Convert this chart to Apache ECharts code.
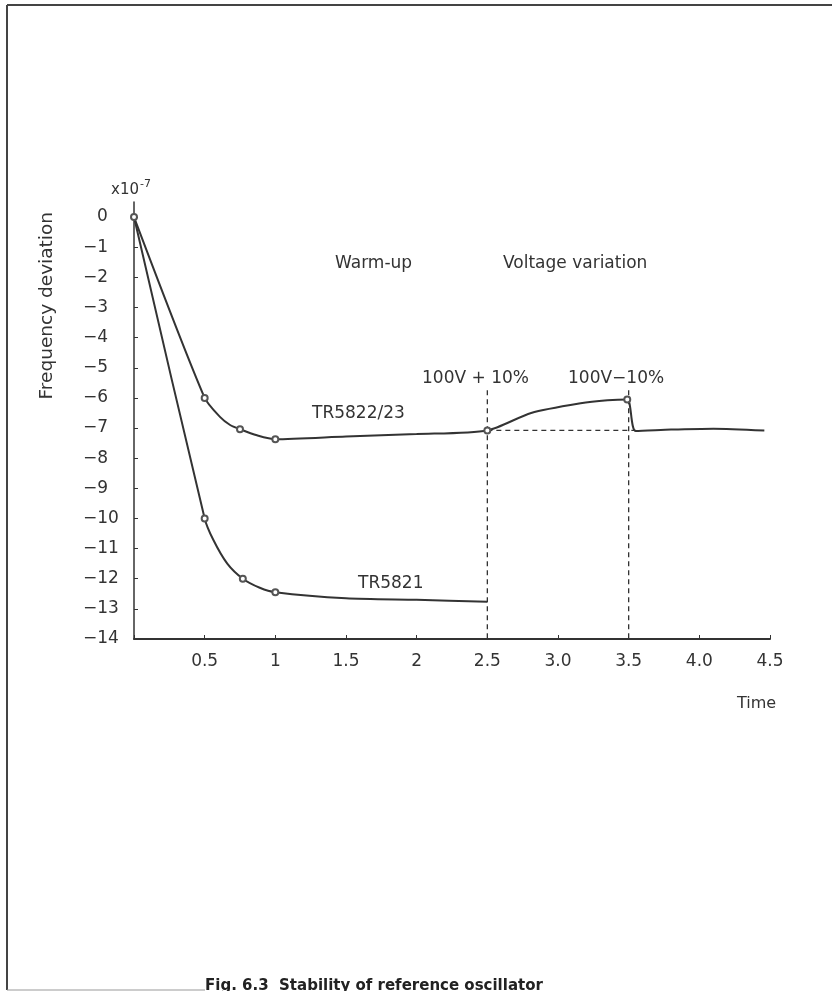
<!DOCTYPE html>
<html>
<head>
<meta charset="utf-8">
<script src="https://cdn.jsdelivr.net/npm/echarts@6/dist/echarts.min.js"></script>
<style>
  html, body { margin: 0; padding: 0; background: #fff; }
  #chart { width: 832px; height: 991px; }
</style>
</head>
<body>
<div id="chart"></div>
<script>
// time axis tick labels (0 has none)
const xTickLabels = ['', '0.5', '1', '1.5', '2', '2.5', '3.0', '3.5', '4.0', '4.5']

// TR5822/23 curve: time, deviation (x1e-7)
const tr5822Time = [0, 0.5, 0.61, 0.68, 0.75, 0.87, 1.0, 1.5, 2.0, 2.5, 2.81, 3.16, 3.35, 3.49, 3.55, 3.8, 4.1, 4.46]
const tr5822Dev  = [0, -6.0, -6.64, -6.9, -7.04, -7.24, -7.37, -7.28, -7.2, -7.08, -6.5, -6.18, -6.08, -6.05, -7.1, -7.05, -7.02, -7.08]
const tr5822Marked = [0, 0.5, 0.75, 1.0, 2.5, 3.49]

// TR5821 curve
const tr5821Time = [0, 0.5, 0.56, 0.66, 0.77, 0.89, 1.0, 1.5, 2.0, 2.5]
const tr5821Dev  = [0, -10.0, -10.7, -11.5, -12.0, -12.3, -12.45, -12.65, -12.7, -12.76]
const tr5821Marked = [0.5, 0.77, 1.0]

// reference (dashed) lines
const dashVert1 = [[2.5, -5.75], [2.5, -14]]
const dashVert2 = [[3.5, -5.75], [3.5, -14]]
const dashHoriz = [[2.5, -7.08], [3.55, -7.08]]

const toData = (ts, vs, marked) => ts.map((t, i) => ({
  value: [t, vs[i]],
  symbol: marked.includes(t) ? 'emptyCircle' : 'none'
}))

const chart = echarts.init(document.getElementById('chart'))
const font = '"DejaVu Sans", sans-serif'
const ink = '#333'

const dashed = (data) => ({
  type: 'line',
  data: data,
  symbol: 'none',
  silent: true,
  lineStyle: { color: ink, width: 1.3, type: [5, 4] },
  z: 1
})

const curve = (name, data) => ({
  name: name,
  type: 'line',
  data: data,
  smooth: 0.25,
  symbolSize: 6,
  lineStyle: { color: ink, width: 2 },
  itemStyle: { color: '#555', borderWidth: 1 },
  z: 3
})

const label = (text, left, top, size) => ({
  type: 'text', left: left, top: top,
  style: { text: text, fill: ink, font: (size || 17) + 'px ' + font }
})

chart.setOption({
  animation: false,
  backgroundColor: '#fff',
  grid: { left: 134, right: 62, top: 202, bottom: 352 },
  xAxis: {
    type: 'value',
    min: 0,
    max: 4.5,
    interval: 0.5,
    splitLine: { show: false },
    axisLine: { onZero: false, lineStyle: { color: ink, width: 2 } },
    axisTick: { inside: true, length: 4, lineStyle: { color: ink } },
    axisLabel: {
      color: ink,
      fontSize: 17,
      fontFamily: font,
      margin: 14,
      formatter: (v) => xTickLabels[Math.round(v / 0.5)] || ''
    }
  },
  yAxis: {
    type: 'value',
    min: -14,
    max: 0.5,
    interval: 1,
    splitLine: { show: false },
    axisLine: { show: true, onZero: false, lineStyle: { color: ink, width: 1.5 } },
    axisTick: { inside: true, length: 4, lineStyle: { color: ink } },
    axisLabel: {
      color: ink,
      fontSize: 17,
      fontFamily: font,
      margin: 51,
      align: 'left',
      showMaxLabel: false,
      formatter: (v) => v === 0 ? '{z|0}' : '\u2212' + Math.abs(v),
      rich: { z: { color: ink, fontSize: 17, fontFamily: font, padding: [0, 0, 0, 14] } }
    }
  },
  series: [
    curve('TR5822/23', toData(tr5822Time, tr5822Dev, tr5822Marked)),
    curve('TR5821', toData(tr5821Time, tr5821Dev, tr5821Marked)),
    dashed(dashVert1),
    dashed(dashVert2),
    dashed(dashHoriz)
  ],
  graphic: [
    // page frame
    { type: 'line', shape: { x1: 7, y1: 5, x2: 832, y2: 5 }, style: { stroke: '#444', lineWidth: 2 } },
    { type: 'line', shape: { x1: 7, y1: 5, x2: 7, y2: 990 }, style: { stroke: '#444', lineWidth: 2 } },
    { type: 'line', shape: { x1: 7, y1: 990, x2: 205, y2: 990 }, style: { stroke: '#999', lineWidth: 1 } },
    {
      type: 'text', left: 38, top: 212,
      rotation: Math.PI / 2,
      style: { text: 'Frequency deviation', fill: ink, font: '18.5px ' + font }
    },
    {
      type: 'text', left: 111, top: 179,
      style: {
        text: '{a|x10}{b|-7}',
        rich: {
          a: { fill: ink, font: '15px ' + font, verticalAlign: 'bottom' },
          b: { fill: ink, font: '11px ' + font, verticalAlign: 'top', padding: [0, 0, 8, 1] }
        }
      }
    },
    label('Warm-up', 335, 255),
    label('Voltage variation', 503, 255),
    label('100V + 10%', 422, 370),
    label('100V\u221210%', 568, 370),
    label('TR5822/23', 312, 405),
    label('TR5821', 358, 575),
    label('Time', 737, 696, 16),
    {
      type: 'text', left: 205, top: 979,
      style: { text: 'Fig. 6.3  Stability of reference oscillator', fill: '#222', font: 'bold 15px ' + font }
    }
  ]
})
</script>
</body>
</html>
